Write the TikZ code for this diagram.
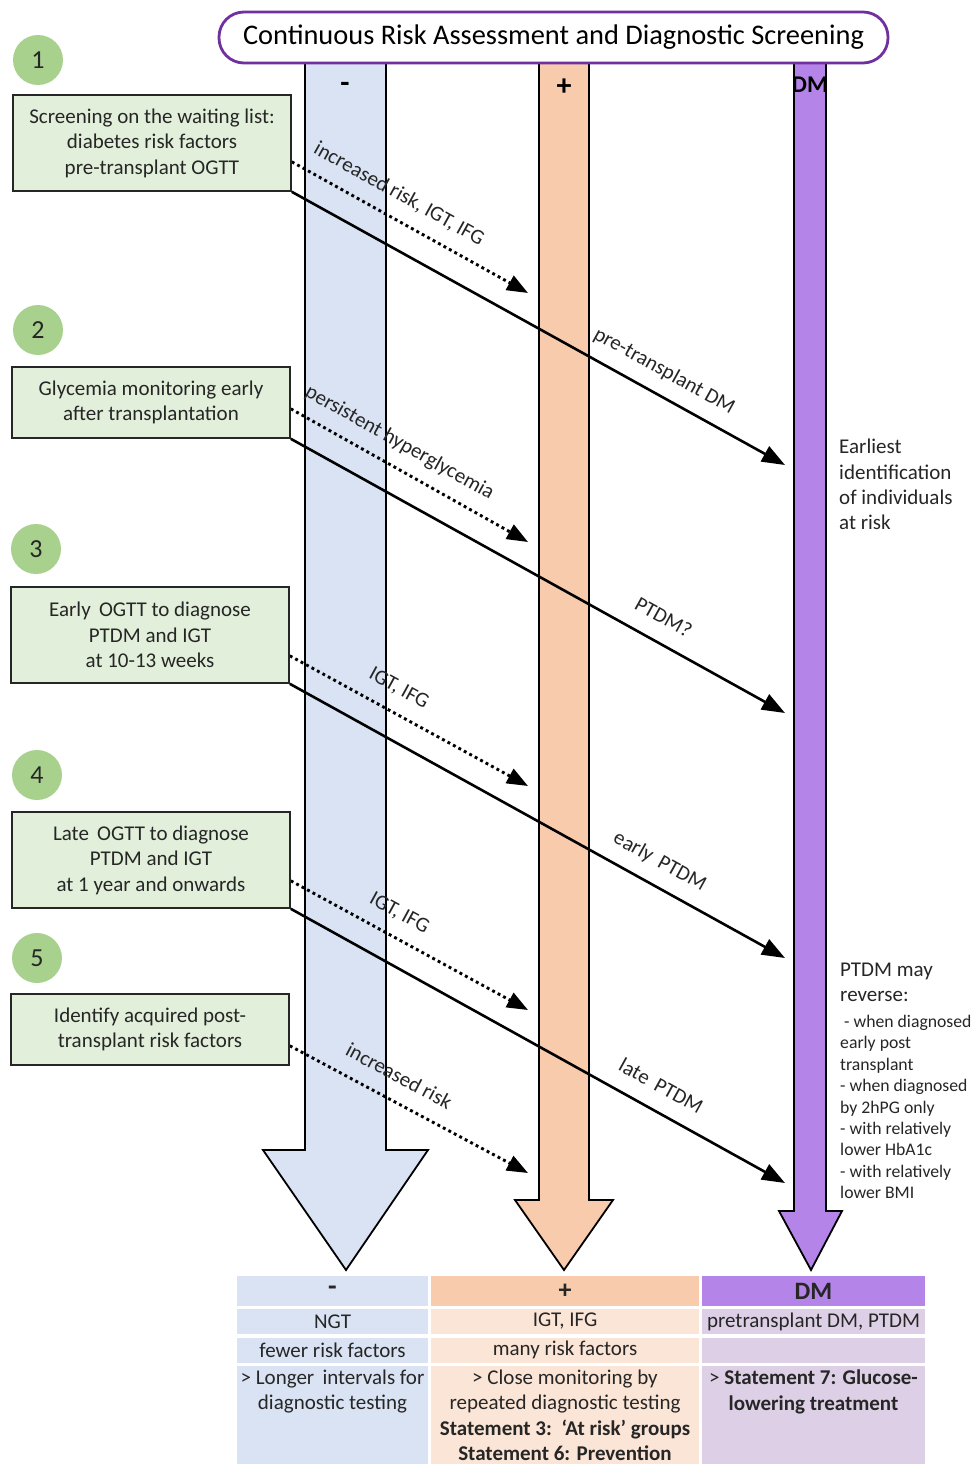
\documentclass[tikz,border=0pt]{standalone}
\usepackage{fontspec}
\setmainfont{Carlito}
\usetikzlibrary{arrows.meta,calc}
\definecolor{tblue}{HTML}{DAE3F3}
\definecolor{torange}{HTML}{F8CBAD}
\definecolor{tpurple}{HTML}{B584E8}
\definecolor{lorange}{HTML}{FBE5D6}
\definecolor{lpurple}{HTML}{DDD0E6}
\definecolor{gcircle}{HTML}{A9D18E}
\definecolor{gbox}{HTML}{E2EFDA}
\definecolor{frame}{HTML}{7030A0}
\definecolor{txt}{HTML}{262626}
\newcommand\myfs[2]{\fontsize{#1}{#2}\selectfont}
\pgfdeclarelayer{collayer}
\pgfdeclarelayer{arrlayer}
\pgfsetlayers{collayer,arrlayer,main}
\begin{document}
\begin{tikzpicture}[x=1pt,y=-1pt,
  colshape/.style={draw=black, line width=1.8pt, line join=miter},
  greenbox/.style={draw=black!85, line width=1.6pt, fill=gbox, align=center, inner sep=0pt, minimum width=278pt, text=txt, font=\myfs{21}{25.5}},
  numcirc/.style={circle, fill=gcircle, minimum size=50pt, inner sep=0pt, font=\myfs{26}{30}, text=txt},
  solidarr/.style={line width=2.6pt, -{Triangle[length=23pt,width=17pt]}},
  dotarr/.style={line width=2.9pt, dash pattern=on 2.9pt off 3.3pt, -{Triangle[length=21pt,width=16pt]}},
  arrlabel/.style={sloped, above=12pt, font=\myfs{21}{24}, text=txt, inner sep=0pt, text depth=4.5pt, text height=15pt},
  tcell/.style={inner sep=0pt, text=txt, font=\myfs{21}{25.3}, align=center},
  sidetext/.style={anchor=north west, align=left, inner sep=0pt, text=txt}
]
\useasboundingbox (0,0) rectangle (975,1464);

% columns
\begin{pgfonlayer}{collayer}
\fill[white] (0,0) rectangle (975,1464);
\draw[colshape, fill=tblue] (305,40) -- (305,1150) -- (263,1150) -- (346,1270) -- (428,1150) -- (386,1150) -- (386,40);
\draw[colshape, fill=torange] (539,40) -- (539,1200) -- (515,1200) -- (564,1270) -- (613,1200) -- (589,1200) -- (589,40);
\draw[colshape, fill=tpurple] (794,40) -- (794,1211) -- (779,1211) -- (811,1270) -- (842,1211) -- (826,1211) -- (826,40);
\end{pgfonlayer}

% title
\node[draw=frame, line width=2.8pt, fill=white, rounded corners=25pt, minimum width=669pt, minimum height=51pt, inner sep=0pt, font=\myfs{28.4}{32}, text=black] (title) at (553.5,37.5) {Continuous Risk Assessment and Diagnostic Screening};

% column labels
\node[font=\myfs{30}{32}\bfseries, inner sep=0pt] (lminus) at (345,87) {-};
\node[font=\myfs{30}{32}\bfseries, inner sep=0pt] (lplus) at (564,87) {+};
\node[font=\myfs{24}{28}\bfseries, inner sep=0pt] (ldm) at (810,85) {DM};

% circles
\node[numcirc] (c1) at (38,60) {1};
\node[numcirc] (c2) at (38,330) {2};
\node[numcirc] (c3) at (36,549) {3};
\node[numcirc] (c4) at (37,775) {4};
\node[numcirc] (c5) at (37,958) {5};

% endpoints
\coordinate (e1d) at (528,293);
\coordinate (e1s) at (785,465);
\coordinate (e2d) at (528,542);
\coordinate (e2s) at (785,713);
\coordinate (e3d) at (528,786);
\coordinate (e3s) at (785,958);
\coordinate (e4d) at (528,1010);
\coordinate (e4s) at (785,1183);
\coordinate (e5d) at (528,1173);

% boxes
\node[greenbox, minimum height=96pt] (b1) at (152,143) {Screening on the waiting list:\\diabetes risk factors\\pre-transplant OGTT};
\node[greenbox, minimum height=71pt] (b2) at (151,402.5) {Glycemia monitoring early\\after transplantation};
\node[greenbox, minimum height=96pt] (b3) at (150,635) {Early\, OGTT to diagnose\\PTDM and IGT\\at 10-13 weeks};
\node[greenbox, minimum height=96pt] (b4) at (151,860) {Late\, OGTT to diagnose\\PTDM and IGT\\at 1 year and onwards};
\node[greenbox, minimum height=71pt] (b5) at (150,1029.5) {Identify acquired post-\\transplant risk factors};

% arrows (on a layer beneath the boxes)
\begin{pgfonlayer}{arrlayer}
\draw[dotarr] ($(b1.south east)+(0,-30)$) -- node[arrlabel, pos=0.405] (t1d) {increased risk, IGT, IFG} (e1d);
\draw[solidarr] (b1.south east) -- node[arrlabel, pos=0.732] (t1s) {pre-transplant DM} (e1s);
\draw[dotarr] ($(b2.south east)+(0,-30)$) -- node[arrlabel, pos=0.41] (t2d) {persistent hyperglycemia} (e2d);
\draw[solidarr] (b2.south east) -- node[arrlabel, pos=0.73] (t2s) {PTDM?} (e2s);
\draw[dotarr] ($(b3.south east)+(0,-28)$) -- node[arrlabel, pos=0.41] (t3d) {IGT, IFG} (e3d);
\draw[solidarr] (b3.south east) -- node[arrlabel, pos=0.724] (t3s) {early\, PTDM} (e3s);
\draw[dotarr] ($(b4.south east)+(0,-28)$) -- node[arrlabel, pos=0.41] (t4d) {IGT, IFG} (e4d);
\draw[solidarr] (b4.south east) -- node[arrlabel, pos=0.725] (t4s) {late\, PTDM} (e4s);
\draw[dotarr] ($(b5.south east)+(0,-20)$) -- node[arrlabel, pos=0.41] (t5d) {increased risk} (e5d);
\end{pgfonlayer}

% side texts
\node[sidetext, font=\myfs{21}{25.3}] (earliest) at (839,439) {Earliest\\identification\\of individuals\\at risk};
\node[sidetext, font=\myfs{21}{25}] (reverse) at (840,963) {PTDM may\\reverse:};
\node[sidetext, font=\myfs{17.7}{21.4}] (revlist) at (840,1015) {\hspace{4pt}- when diagnosed\\early post\\transplant\\- when diagnosed\\by 2hPG only\\- with relatively\\lower HbA1c\\- with relatively\\lower BMI};

% table
\node[tcell, fill=tblue, minimum width=191pt, minimum height=30pt, font=\myfs{28}{30}\bfseries] (h1) at (332.5,1291) {-};
\node[tcell, fill=torange, minimum width=268pt, minimum height=30pt, font=\myfs{26}{30}\bfseries] (h2) at (565,1291) {+};
\node[tcell, fill=tpurple, minimum width=223pt, minimum height=30pt, font=\myfs{25}{28}\bfseries] (h3) at (813.5,1291) {DM};
\node[tcell, fill=tblue, minimum width=191pt, minimum height=25pt] (r21) at (332.5,1321.5) {NGT};
\node[tcell, fill=lorange, minimum width=268pt, minimum height=25pt] (r22) at (565,1321.5) {IGT, IFG};
\node[tcell, fill=lpurple, minimum width=223pt, minimum height=25pt] (r23) at (813.5,1321.5) {pretransplant DM, PTDM};
\node[tcell, fill=tblue, minimum width=191pt, minimum height=25pt] (r31) at (332.5,1350) {fewer risk factors};
\node[tcell, fill=lorange, minimum width=268pt, minimum height=25pt] (r32) at (565,1350) {many risk factors};
\node[tcell, fill=lpurple, minimum width=223pt, minimum height=25pt] (r33) at (813.5,1350) {};
\node[tcell, fill=tblue, minimum width=191pt, minimum height=98pt] (r41) at (332.5,1415) {};
\node[tcell, fill=lorange, minimum width=268pt, minimum height=98pt] (r42) at (565,1415) {};
\node[tcell, fill=lpurple, minimum width=223pt, minimum height=98pt] (r43) at (813.5,1415) {};
\node[tcell, anchor=north] (r41t) at ($(r41.north)+(0,4)$) {> Longer\, intervals for\\diagnostic testing};
\node[tcell, anchor=north] (r42t) at ($(r42.north)+(0,4)$) {> Close monitoring by\\repeated diagnostic testing\\\textbf{Statement 3:\, `At risk' groups}\\\textbf{Statement 6: Prevention}};
\node[tcell, anchor=north] (r43t) at ($(r43.north)+(0,4)$) {> \textbf{Statement 7: Glucose-}\\\textbf{lowering treatment}};
\end{tikzpicture}
\end{document}
